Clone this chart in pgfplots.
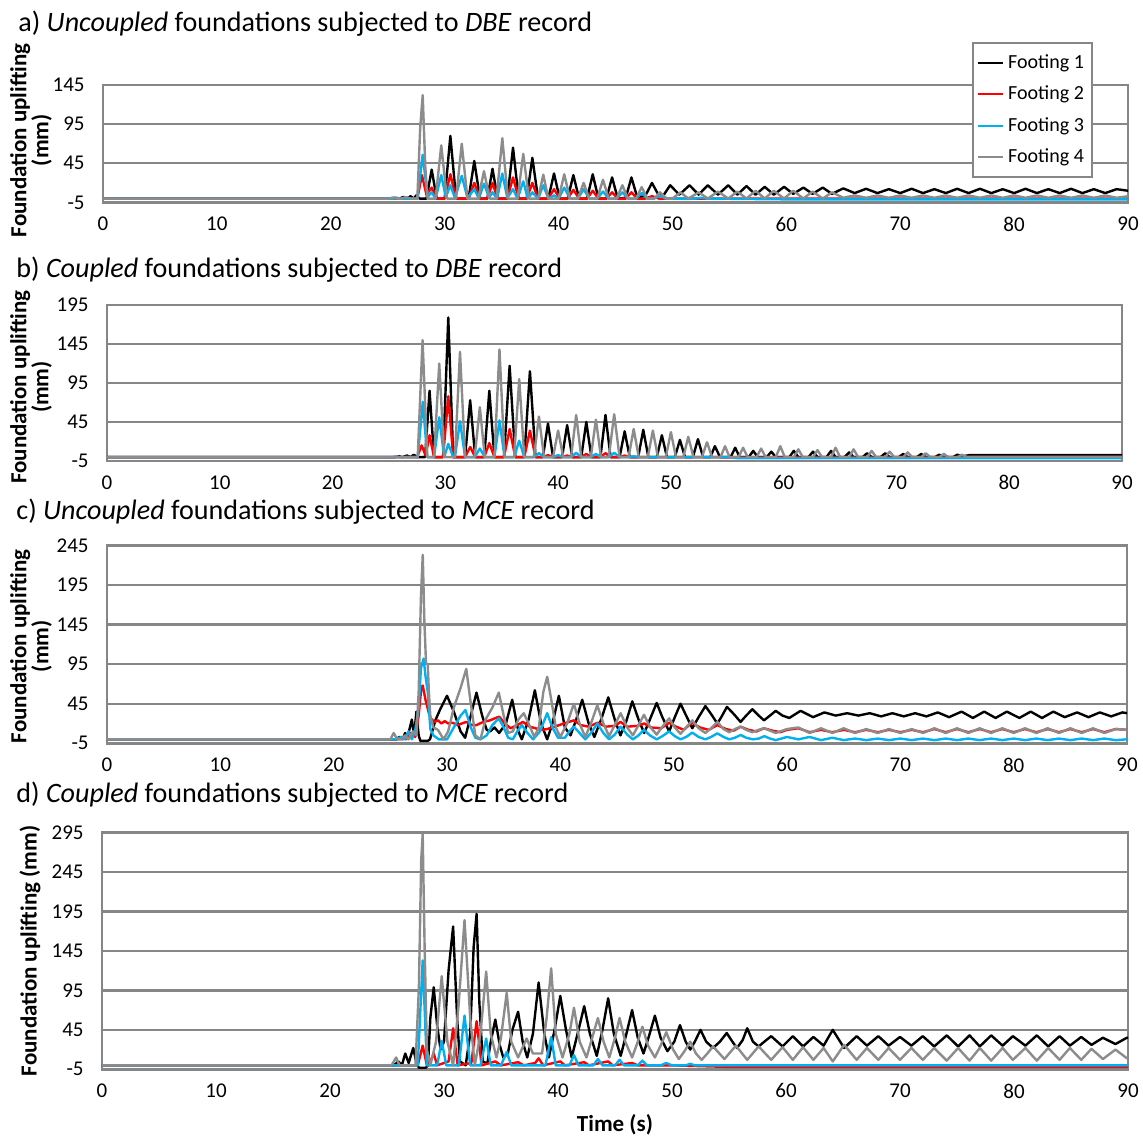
\documentclass[border=0pt]{standalone}
\usepackage{fontspec}
\setmainfont{Carlito}
\usepackage{pgfplots}
\pgfplotsset{compat=1.18}
\definecolor{gridgray}{RGB}{134,134,134}
\definecolor{fgray}{RGB}{140,140,140}
\definecolor{fblue}{RGB}{0,176,240}
\definecolor{fred}{RGB}{255,0,0}
\pgfplotsset{
  panel/.style={
    scale only axis, anchor=south west, xmin=0, xmax=90, xtick={0,10,...,90},
    axis line style={draw=gridgray, line width=1.3pt},
    ymajorgrids, grid style={draw=gridgray, line width=1.1pt},
    major tick length=0pt,
    tick label style={font=\fontsize{10.5}{12}\selectfont},
    /pgf/number format/assume math mode=true,
    yticklabel style={inner sep=0pt, xshift=-9pt},
    xticklabel style={inner sep=0pt, yshift=-7pt},
    ylabel style={anchor=center, align=center, font=\bfseries\fontsize{11.5}{11}\selectfont},
    every axis plot/.append style={line width=1.2pt, mark=none, line join=round},
  }
}
\begin{document}
\begin{tikzpicture}[x=0.5pt,y=0.5pt]
\path[use as bounding box] (0,0) rectangle (1143,1135);
\node[anchor=west, font=\fontsize{14.05}{16}\selectfont, inner sep=0pt] at (18,1111) {a) \textit{Uncoupled} foundations subjected to \textit{DBE} record};
\node[anchor=west, font=\fontsize{14.05}{16}\selectfont, inner sep=0pt] at (16,865) {b) \textit{Coupled} foundations subjected to \textit{DBE} record};
\node[anchor=west, font=\fontsize{14.05}{16}\selectfont, inner sep=0pt] at (16,623) {c) \textit{Uncoupled} foundations subjected to \textit{MCE} record};
\node[anchor=west, font=\fontsize{14.05}{16}\selectfont, inner sep=0pt] at (16,340) {d) \textit{Coupled} foundations subjected to \textit{MCE} record};

% ---------------- panel a
\begin{axis}[panel, at={(51.5pt,466.25pt)}, width=512.5pt, height=58.75pt,
  ymin=-5, ymax=145, ytick={-5,45,95,145},
  ylabel={Foundation uplifting\\(mm)}, ylabel style={at={(axis description cs:-0.0702,0.53)}},
  legend style={at={(axis description cs:0.848,1.362)}, anchor=north west, draw=gridgray, line width=1pt, fill=white,
    font=\fontsize{10}{12}\selectfont, row sep=3.3pt, inner xsep=2pt, inner ysep=3.5pt, cells={anchor=west}},
  legend image code/.code={\draw[#1, line width=1pt] (0pt,0pt) -- (12.5pt,0pt);},
  ]
\addplot[black] coordinates {(0,0)(25.0,0)(25.6,1)(26.0,0)(26.4,2)(26.7,0)(27.0,3)(27.3,0)(27.5,4)(27.8,0)(28.4,0)(28.86,37)(29.3,0)(30.0,0)(30.5,80)(31.0,0)(32.1,0)(32.6,48)(33.1,0)(33.75,0)(34.2,38)(34.65,0)(35.5,0)(36.0,65)(36.5,0)(37.2,0)(37.7,52)(38.2,0)(39.1,0)(39.6,32)(40.1,0)(40.8,0)(41.3,30)(41.8,0)(42.5,0)(43.0,31)(43.5,0)(44.2,0)(44.7,27)(45.2,0)(45.9,1)(46.4,27)(46.9,2)(47.6,3)(48.2,20)(48.8,4)(49.2,4)(49.8,17)(50.6,5)(51.5,17)(52.3,5)(53.1,17)(54.0,5)(54.9,17)(55.7,5)(56.5,16)(57.3,5)(58.1,15)(58.9,5)(59.8,15)(60.6,6)(61.5,14)(62.3,6)(63.2,14)(64.0,6)(65.0,13)(66.0,7)(67.0,12.5)(68.0,7)(69.0,12)(70.0,7)(71.0,12.5)(72.0,7)(73.0,12)(74.0,7)(75.0,12.5)(76.0,7)(77.0,12.5)(78.0,7)(79.0,12)(80.0,7)(81.0,12.5)(82.0,7)(83.0,12)(84.0,7)(85.0,12.5)(86.0,7)(87.0,12)(88.0,7)(89.0,12)(90.0,10)};
\addlegendentry{Footing 1}
\addplot[fred] coordinates {(0,0)(27.6,0)(28.0,30)(28.4,5)(28.86,14)(29.3,0)(30.0,0)(30.5,31)(31.0,0)(32.1,0)(32.6,20)(33.1,0)(33.75,0)(34.2,20)(34.65,0)(35.5,0)(36.0,27)(36.5,0)(37.2,0)(37.7,20)(38.2,0)(39.1,0)(39.6,12)(40.1,0)(40.8,0)(41.3,11)(41.8,0)(42.5,0)(43.0,10)(43.5,0)(44.2,0)(44.7,8)(45.2,0)(45.9,0)(46.4,8)(46.9,0)(47.6,0)(48.2,3)(48.8,0)(90,0)};
\addlegendentry{Footing 2}
\addplot[fblue] coordinates {(0,0)(25.5,0)(25.8,1)(26.1,0)(27.6,0)(28.07,56)(28.5,2)(28.86,8)(29.2,0)(29.7,30)(30.1,2)(30.5,17)(30.9,1)(31.5,29)(32.0,1)(32.6,12)(33.0,0)(33.45,19)(33.9,1)(34.2,8)(34.6,0)(35.06,32)(35.5,1)(36.0,12)(36.4,0)(36.9,22)(37.3,0)(37.7,8)(38.2,0)(38.66,17)(39.1,0)(39.6,4)(40.0,0)(40.5,14)(41.0,0)(41.7,0)(42.2,12)(42.7,0)(43.4,0)(43.9,9)(44.4,0)(45.1,0)(45.6,8)(46.1,0)(46.8,0)(47.3,7)(47.8,0)(48.4,0)(48.9,4)(49.4,0)(52,0)(52.5,1)(53,0)(60,-1)(90,-1)};
\addlegendentry{Footing 3}
\addplot[fgray] coordinates {(0,0)(25.0,0)(25.5,1)(25.8,0)(26.2,0)(26.6,2)(27.0,0)(27.6,0)(27.85,90)(28.07,132)(28.3,40)(28.5,0)(29.2,0)(29.7,68)(30.2,0)(31.0,0)(31.5,70)(32.0,0)(32.95,0)(33.45,35)(33.95,0)(34.55,0)(35.06,77)(35.55,0)(36.4,0)(36.9,57)(37.4,0)(38.2,0)(38.66,30.5)(39.1,0)(40.0,0)(40.5,31)(41.0,0)(41.7,0)(42.2,20)(42.7,0)(43.4,0)(43.9,24)(44.4,0)(45.1,0)(45.6,17)(46.1,0)(46.8,0)(47.3,14.6)(47.8,0)(48.4,0)(48.9,8)(49.5,0)(50.0,0)(50.7,8)(51.4,0)(52.3,8)(53.1,0)(54.0,9)(54.9,0)(55.7,9)(56.5,0)(57.3,10)(58.1,0)(58.9,10)(59.8,0)(60.6,10)(61.5,0)(62.3,9)(63.2,0)(64.0,8)(65.0,1)(66.0,4)(67.0,1)(68.0,4)(69,1)(70,4)(71,1)(72,4)(73,1)(74,4)(75,1)(76,4)(77,1)(78,4)(79,1)(80,4)(81,1)(82,4)(83,1)(84,4)(85,1)(86,4)(87,1)(88,4)(89,1)(90,3)};
\addlegendentry{Footing 4}
\end{axis}

% ---------------- panel b
\begin{axis}[panel, at={(53.5pt,337pt)}, width=507.5pt, height=78pt,
  ymin=-5, ymax=195, ytick={-5,45,95,145,195},
  ylabel={Foundation uplifting\\(mm)}, ylabel style={at={(axis description cs:-0.0749,0.474)}}]
\addplot[black] coordinates {(0,0)(25.5,0)(25.9,1)(26.2,0)(26.6,2)(26.9,0)(27.2,3)(27.5,0)(28.2,0)(28.6,85)(29.0,0)(29.8,0)(30.26,179)(30.7,0)(31.75,0)(32.2,73)(32.65,0)(33.45,0)(33.9,85)(34.35,0)(35.2,0)(35.7,117)(36.2,0)(37.0,0)(37.5,110)(38.0,0)(38.65,0)(39.1,43)(39.55,0)(40.35,0)(40.8,41)(41.25,0)(42.05,0)(42.5,45)(42.95,0)(43.75,0)(44.2,54)(44.65,0)(45.45,0)(45.9,33)(46.35,0)(47.1,0)(47.55,35)(48.0,0)(48.75,0)(49.2,28)(49.65,0)(50.35,0)(50.8,22)(51.25,0)(51.95,0)(52.4,23)(52.85,0)(53.5,0)(53.9,14)(54.35,0)(55.3,0)(55.7,12)(56.1,0)(56.9,0)(57.3,8)(57.7,0)(58.5,0)(58.9,7)(59.3,0)(60.5,0)(60.9,8)(61.3,0)(62.2,0)(62.6,7)(63.0,0)(63.8,0)(64.2,8)(64.6,0)(65.4,0)(65.8,6)(66.2,0)(67.0,0)(67.4,5)(67.8,0)(68.6,0)(69.0,5)(69.4,0)(70.2,0)(70.6,4)(71.0,0)(71.8,0)(72.2,4)(72.6,0)(73.4,0)(73.8,3)(74.2,0)(75.0,0)(75.4,3)(75.8,1)(76.5,2.5)(90,2.5)};
\addplot[fred] coordinates {(0,0)(27.5,0)(27.9,15)(28.25,2)(28.6,28)(29.0,0)(29.8,0)(30.26,78)(30.7,0)(31.75,0)(32.2,13)(32.65,0)(33.45,0)(33.9,18)(34.35,0)(35.2,0)(35.7,36)(36.2,0)(37.0,0)(37.5,34)(38.0,0)(38.65,0)(39.1,2.5)(39.55,0)(40.35,0)(40.8,2)(41.25,0)(42.05,0)(42.5,4)(42.95,0)(43.75,0)(44.2,5)(44.65,0)(45.45,0)(45.9,2)(46.35,0)(90,0)};
\addplot[fblue] coordinates {(0,0)(27.55,0)(28.0,71)(28.4,0)(29.0,0)(29.46,51)(29.9,0)(30.26,17)(30.7,0)(30.85,0)(31.3,46)(31.75,0)(32.6,0)(33.06,11)(33.5,0)(34.35,0)(34.8,47)(35.25,0)(36.1,0)(36.55,21)(37.0,0)(37.85,0)(38.3,5)(38.75,0)(39.55,0)(40.0,2.5)(40.45,0)(41.15,0)(41.6,5.5)(42.05,0)(42.9,0)(43.35,4)(43.8,0)(44.5,0)(44.97,5.5)(45.45,0)(46.25,0)(46.7,1)(47.15,0)(55,0)(56,-1.5)(90,-1.5)};
\addplot[fgray] coordinates {(0,0)(25.3,0)(25.6,1)(25.9,0)(27.55,0)(27.98,150)(28.4,0)(29.0,0)(29.46,120)(29.9,0)(30.85,0)(31.3,135)(31.75,0)(32.6,0)(33.06,64)(33.5,0)(34.35,0)(34.8,138)(35.25,0)(36.1,0)(36.55,100)(37.0,0)(37.85,0)(38.3,52)(38.75,0)(39.55,0)(40.0,34)(40.45,0)(41.15,0)(41.6,54)(42.05,0)(42.9,0)(43.35,48)(43.8,0)(44.5,0)(44.97,55)(45.45,0)(46.25,0)(46.7,36)(47.15,0)(47.95,0)(48.4,34)(48.85,0)(49.55,0)(50.0,32)(50.45,0)(51.1,0)(51.54,26)(52.0,0)(52.75,0)(53.2,19)(53.65,0)(54.4,0)(54.8,14)(55.2,0)(56.0,0)(56.4,12)(56.8,0)(57.6,0)(58.0,11)(58.4,0)(59.3,0)(59.7,14)(60.1,0)(60.9,0)(61.3,10)(61.7,0)(62.6,0)(63.0,9)(63.4,0)(64.2,0)(64.6,12)(65.0,0)(65.8,0)(66.2,10)(66.6,0)(67.4,0)(67.8,8)(68.2,0)(69.0,0)(69.4,7)(69.8,0)(70.6,0)(71.0,6)(71.4,0)(72.2,0)(72.6,5)(73.0,0)(73.8,0)(74.2,4)(74.6,0)(75.4,0)(75.8,3)(76.2,0.5)(90,0.5)};
\end{axis}

% ---------------- panel c
\begin{axis}[panel, at={(53.5pt,195.85pt)}, width=510pt, height=99pt,
  ymin=-5, ymax=245, ytick={-5,45,95,145,195,245},
  ylabel={Foundation uplifting\\(mm)}, ylabel style={at={(axis description cs:-0.0745,0.49)}}]
\addplot[black] coordinates {(0,0)(24.5,0)(25.5,0)(25.8,3)(26.1,0)(26.3,8)(26.5,2)(26.9,25)(27.1,5)(27.3,35)(27.5,5)(27.65,-2)(28.3,-2)(28.5,0)(28.97,24)(29.4,38)(30.0,55)(30.6,35)(31.2,10)(31.6,2)(32.1,30)(32.6,59)(33.1,30)(33.5,12)(33.8,10)(34.2,15)(34.6,8)(35.2,20)(35.75,50)(36.3,10)(36.6,0)(37.2,25)(37.75,62)(38.3,20)(38.84,0)(39.3,20)(39.87,55)(40.4,15)(40.9,5)(41.4,25)(41.93,50)(42.5,20)(43.0,3)(43.6,25)(44.23,53)(44.8,25)(45.3,5)(45.8,22)(46.35,48)(46.9,25)(47.4,8)(47.9,25)(48.5,46)(49.0,28)(49.6,10)(50.1,28)(50.6,45)(51.1,30)(51.64,14)(52.2,28)(52.8,42)(53.3,32)(53.85,20)(54.2,28)(54.7,41)(55.3,32)(55.9,22)(56.4,30)(56.94,38)(57.5,30)(57.97,24)(58.5,30)(59.0,36)(59.6,30)(60.2,27)(61.2,36)(62.3,28)(63.3,34)(64.3,30)(65.3,33)(66.3,30)(67.3,33)(68.3,29)(69.3,33)(70.3,29)(71.3,33)(72.3,29)(73.3,34)(74.3,28)(75.4,35)(76.4,27)(77.4,35)(78.4,27)(79.4,35)(80.5,27)(81.5,35)(82.5,27)(83.5,35)(84.5,28)(85.6,34)(86.6,28)(87.6,34)(88.6,29)(89.6,34)(90,33)};
\addplot[fred] coordinates {(0,0)(25.6,0)(26.0,3)(26.4,0)(26.8,8)(27.2,3)(27.5,30)(27.74,66)(27.86,68)(28.1,50)(28.4,33)(28.6,26)(28.9,22)(29.2,24)(29.5,20)(29.8,23)(30.1,20)(30.5,21)(30.9,18)(31.3,20)(31.7,22)(32.2,18)(32.6,18)(33.2,22)(33.8,24)(34.3,27)(34.6,28.6)(35.1,20)(35.6,14)(36.2,18)(36.7,22)(37.3,16)(37.8,14)(38.3,12)(38.84,13)(39.5,16)(40.3,20)(41.2,24)(41.8,18)(42.5,16)(43.3,21)(44.0,16)(44.8,17)(45.3,22)(45.9,16)(46.8,17)(47.4,20)(48.0,15)(48.9,14)(49.6,21)(50.2,16)(50.9,12)(51.6,21)(52.3,15)(53.1,12)(53.85,18)(54.6,13)(55.3,11)(55.9,16)(56.6,12)(57.3,10)(57.97,14)(58.7,11)(59.4,9)(60.0,12)(61.0,14)(62.0,9)(63.0,12)(64.0,9)(65.0,12)(66.0,9)(67.0,12)(68.0,9)(69.0,12)(70.0,9)(71.0,12)(72.0,9)(73.0,13)(74.0,9)(75.0,13)(76.0,9)(77.0,13)(78.0,9)(79.0,13)(80.0,9)(81.0,13)(82.0,9)(83.0,13)(84.0,9)(85.0,13)(86.0,9)(87.0,13)(88.0,9)(89.0,13)(90,12)};
\addplot[fblue] coordinates {(0,0)(25.5,0)(26.0,3)(26.3,0)(26.6,10)(26.9,0)(27.2,12)(27.5,40)(27.7,90)(27.94,102)(28.1,80)(28.3,60)(28.53,13)(28.8,5)(29.27,0)(30.0,0)(30.6,15)(31.2,30)(31.63,37)(32.1,15)(32.5,2)(32.95,0)(33.5,5)(34.0,18)(34.57,26.5)(35.0,15)(35.4,2)(35.8,0)(36.2,10)(36.6,18)(37.1,8)(37.6,0)(38.2,10)(38.84,33)(39.3,15)(39.8,2)(40.4,2)(40.8,10)(41.19,16)(41.7,8)(42.2,0)(42.7,8)(43.26,20)(43.8,8)(44.3,0)(44.8,6)(45.32,16)(45.9,6)(46.4,0)(46.9,5)(47.38,12)(47.9,5)(48.5,0)(49.0,4)(49.6,10)(50.1,4)(50.6,0)(51.1,3)(51.64,8.5)(52.2,3)(52.8,0)(53.3,3)(53.85,7.6)(54.4,3)(54.9,0)(55.4,2)(55.9,5.5)(56.4,2)(57.0,0)(57.5,1)(58.0,4)(58.5,1)(59.0,-1)(60.0,3)(61.0,0)(62.0,3)(63.0,-1)(64.0,2)(65.0,-1)(66.0,1)(67.0,-1)(68.0,1)(69.0,-1)(70.0,1)(71.0,-1)(72.0,1)(73.0,-1)(74.0,1)(75.0,-1)(76.0,1)(77.0,-1)(78.0,1)(79.0,-1)(80.0,1)(81.0,-1)(82.0,1)(83.0,-1)(84.0,1)(85.0,-1)(86.0,1)(87.0,-1)(88.0,1)(89.0,-1)(90,0)};
\addplot[fgray] coordinates {(0,0)(25.0,0)(25.3,8)(25.6,0)(26.0,0)(26.3,5)(26.6,0)(27.0,10)(27.3,5)(27.5,60)(27.7,180)(27.86,233)(28.0,150)(28.15,96)(28.3,95)(28.4,60)(28.53,29)(28.8,15)(29.2,12)(29.7,0)(30.1,10)(30.6,40)(31.2,65)(31.7,89)(32.1,45)(32.5,5)(32.95,0)(33.4,25)(34.0,40)(34.57,59)(35.0,30)(35.4,8)(35.8,10)(36.3,25)(36.77,33)(37.2,20)(37.7,3)(38.1,15)(38.5,60)(38.84,79)(39.2,50)(39.6,15)(40.0,3)(40.6,20)(41.19,45)(41.7,20)(42.2,3)(42.7,20)(43.26,43)(43.8,20)(44.3,4)(44.8,18)(45.32,33)(45.9,15)(46.4,5)(46.9,18)(47.38,31)(47.9,16)(48.5,6)(49.0,16)(49.6,26.5)(50.1,15)(50.6,7)(51.1,15)(51.64,24)(52.2,14)(52.8,8)(53.3,14)(53.85,22)(54.4,13)(54.9,9)(55.4,13)(55.9,16)(56.4,12)(56.94,9)(57.5,12)(57.97,14)(58.5,11)(59.0,8)(60.0,13)(61.0,15)(62.0,8)(63.0,14)(64.0,8)(65.0,14)(66.0,8)(67.0,13)(68.0,8)(69.0,13)(70.0,8)(71.0,13)(72.0,8)(73.0,14)(74.0,8)(75.0,14)(76.0,8)(77.0,14)(78.0,8)(79.0,14)(80.0,8)(81.0,14)(82.0,8)(83.0,14)(84.0,8)(85.0,14)(86.0,8)(87.0,14)(88.0,8)(89.0,13)(90,12)};
\end{axis}

% ---------------- panel d
\begin{axis}[panel, at={(51pt,32.85pt)}, width=513pt, height=118.35pt,
  ymin=-5, ymax=295, ytick={-5,45,95,145,195,245,295},
  ylabel={Foundation uplifting (mm)}, ylabel style={at={(axis description cs:-0.0702,0.5)}},
  xlabel={Time (s)}, xlabel style={at={(axis description cs:0.5,-0.235)}, anchor=center, font=\bfseries\fontsize{11.5}{13}\selectfont}]
\addplot[black] coordinates {(0,0)(25.0,0)(25.6,0)(26.0,5)(26.3,0)(26.6,15)(26.9,3)(27.3,22)(27.6,2)(27.8,-3)(28.4,-3)(28.6,0)(28.8,60)(29.1,99)(29.4,50)(29.7,20)(30.0,30)(30.4,120)(30.8,176)(31.15,60)(31.4,5)(31.9,0)(32.3,40)(32.6,150)(32.86,192)(33.1,80)(33.4,5)(33.8,2)(34.1,30)(34.5,58)(34.9,25)(35.2,10)(35.6,15)(36.0,45)(36.5,68)(36.9,30)(37.3,10)(37.8,40)(38.3,105)(38.8,40)(39.2,10)(39.7,45)(40.2,88)(40.7,45)(41.2,10)(41.8,45)(42.3,75)(42.8,40)(43.4,12)(43.9,45)(44.4,85)(44.9,40)(45.5,12)(46.0,40)(46.5,70)(47.0,35)(47.5,15)(48.0,38)(48.5,63)(49.0,35)(49.6,18)(50.2,30)(50.7,51)(51.2,30)(51.6,20)(52.0,30)(52.5,45)(53.0,30)(53.6,22)(54.2,30)(54.8,41)(55.3,30)(55.7,22)(56.2,32)(56.6,47)(57.1,30)(57.6,24)(58.1,30)(58.7,37)(59.7,24)(60.6,37)(61.5,24)(62.4,36)(63.3,25)(64.1,45)(65.1,22)(66.2,37)(67.1,25)(68.1,37)(69.0,25)(70.0,36)(71.0,25)(72.0,37)(73.0,24)(74.1,38)(75.1,24)(76.1,38)(77.0,24)(78.0,38)(79.0,25)(79.9,37)(81.0,25)(82.0,38)(83.0,24)(84.0,37)(84.9,25)(85.9,36)(86.8,26)(87.8,35)(88.9,27)(89.9,35)(90,35)};
\addplot[fred] coordinates {(0,0)(27.7,0)(28.13,25)(28.5,0)(28.8,5)(29.1,15)(29.4,0)(30.4,5)(30.8,47)(31.2,0)(32.4,3)(32.86,56)(33.3,0)(34.5,5)(35.0,0)(36.5,4)(37.0,0)(38.0,3)(38.3,9)(38.7,0)(40.2,5)(40.6,0)(42.3,4)(42.7,0)(44.4,5)(44.8,0)(46.5,3)(47.0,0)(50,0)(55,-2)(90,-2)};
\addplot[fblue] coordinates {(0,0)(27.7,0)(28.13,133)(28.5,0)(29.4,0)(29.8,31)(30.2,0)(31.3,0)(31.8,63)(32.3,0)(33.2,0)(33.7,34)(34.1,0)(35.0,0)(35.5,17)(35.9,0)(38.9,0)(39.4,36)(39.8,0)(41.0,0)(41.4,13)(41.8,0)(43.1,0)(43.5,8)(43.9,0)(45.0,0)(45.4,7)(45.8,0)(47.0,0)(47.4,6)(47.8,0)(49.0,0)(49.5,3)(50.0,0)(51.2,0)(51.6,2)(52.0,0)(90,0)};
\addplot[fgray] coordinates {(0,0)(25.4,0)(25.8,10)(26.1,0)(27.5,0)(27.8,100)(28.0,260)(28.13,293)(28.3,150)(28.5,20)(28.8,0)(29.3,30)(29.8,113)(30.3,30)(30.8,0)(31.3,80)(31.8,184)(32.3,60)(32.7,0)(33.2,40)(33.7,119)(34.1,40)(34.6,10)(35.0,35)(35.5,92)(35.9,30)(36.5,10)(37.25,34)(37.8,15)(38.6,15)(39.0,60)(39.4,123)(39.8,40)(40.4,10)(41.0,40)(41.4,73)(41.9,30)(42.5,10)(43.0,35)(43.5,60)(44.0,30)(44.5,10)(45.0,35)(45.4,60)(45.9,30)(46.5,10)(47.0,30)(47.4,49)(47.9,25)(48.5,10)(49.0,25)(49.5,42)(50.1,20)(50.6,8)(51.1,18)(51.6,30)(52.1,15)(52.6,7)(53.1,15)(53.6,24)(54.6,8)(55.6,25)(56.6,7)(57.6,24)(58.7,7)(59.7,23)(60.6,7)(61.5,23)(62.4,7)(63.3,22)(64.1,5)(65.1,26)(66.2,7)(67.1,22)(68.1,7)(69.0,22)(70.0,7)(71.0,22)(72.0,7)(73.0,22)(74.1,6)(75.1,22)(76.1,6)(77.0,22)(78.0,6)(79.0,22)(79.9,7)(81.0,22)(82.0,6)(83.0,22)(84.0,7)(84.9,22)(85.9,7)(86.8,21)(87.8,8)(88.9,20)(89.9,9)(90,9)};
\end{axis}
\end{tikzpicture}
\end{document}
